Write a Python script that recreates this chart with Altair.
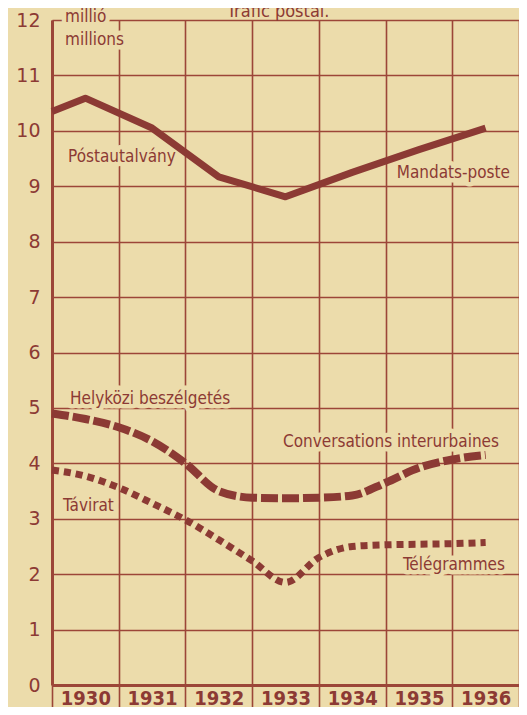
import altair as alt
import pandas as pd

# ---- data ----
post_years = [1929.5, 1930, 1931, 1932, 1933, 1934, 1935, 1936]
post_vals = [10.35, 10.59, 10.05, 9.17, 8.81, 9.25, 9.66, 10.05]

phone_years = [1929.5, 1930, 1930.5, 1931, 1931.5, 1932, 1932.5, 1933, 1933.5,
               1934, 1934.5, 1935, 1935.5, 1936]
phone_vals = [4.9, 4.8, 4.65, 4.4, 4.0, 3.5, 3.38, 3.37, 3.38,
              3.42, 3.65, 3.92, 4.07, 4.15]

tele_years = [1929.5, 1930, 1930.5, 1931, 1931.5, 1932, 1932.5, 1933, 1933.5,
              1934, 1934.5, 1935, 1935.5, 1936]
tele_vals = [3.88, 3.77, 3.56, 3.28, 2.98, 2.62, 2.24, 1.85, 2.3,
             2.5, 2.53, 2.54, 2.55, 2.57]

label_texts = ["millió", "millions", "Póstautalvány", "Helyközi beszélgetés", "Távirat",
               "Mandats-poste", "Conversations interurbaines", "Télégrammes"]
label_x = [1929.695, 1929.695, 1929.74, 1929.77, 1929.665, 1936.365, 1936.20, 1936.29]
label_y = [11.96, 11.55, 9.44, 5.07, 3.14, 9.15, 4.29, 2.075]
label_side = ["left", "left", "left", "left", "left", "right", "right", "right"]

year_labels = [1930, 1931, 1932, 1933, 1934, 1935, 1936]
y_ticks = list(range(0, 13))

title_text = ["Trafic postal."]
title_x = [1932.89]
title_y = [12.06]

# ---- styling ----
BG = "#ecdcab"
GRID = "#9c4638"
INK = "#8c3a34"
NARROW = "DejaVu Sans Condensed, DejaVu Sans, sans-serif"

post = pd.DataFrame({"year": post_years, "value": post_vals})
phone = pd.DataFrame({"year": phone_years, "value": phone_vals})
tele = pd.DataFrame({"year": tele_years, "value": tele_vals})
labels = pd.DataFrame({"year": label_x, "value": label_y, "text": label_texts, "side": label_side})
left_labels = labels[labels.side == "left"]
right_labels = labels[labels.side == "right"]
title_df = pd.DataFrame({"year": title_x, "value": title_y, "text": title_text})

bounds = [y - 0.5 for y in year_labels] + [year_labels[-1] + 0.5]
x_values = sorted(bounds + year_labels)

x_scale = alt.Scale(domain=[bounds[0], bounds[-1]], nice=False, zero=False)
y_scale = alt.Scale(domain=[0, 12], nice=False)

is_bound = "datum.value % 1 !== 0"
x_axis = alt.Axis(
    values=x_values, title=None,
    grid=True, gridColor=GRID, gridWidth=1.6,
    gridOpacity={"condition": {"test": is_bound, "value": 1}, "value": 0},
    ticks=True, tickSize=30, tickColor=GRID, tickWidth=1.6,
    tickOpacity={"condition": {"test": is_bound, "value": 1}, "value": 0},
    labelExpr="datum.value % 1 === 0 ? format(datum.value, 'd') : ''",
    labelFont=NARROW, labelFontSize=20, labelFontWeight="bold", labelColor=INK,
    labelPadding=-27, labelBaseline="top", labelAngle=0,
    labelOverlap=False, labelFlush=False,
    domain=True, domainColor=GRID, domainWidth=3,
)
y_axis = alt.Axis(
    values=y_ticks, title=None,
    grid=True, gridColor=GRID, gridWidth=1.6,
    ticks=False, tickSize=0,
    labelFont="DejaVu Sans", labelFontSize=19, labelColor=INK, labelPadding=12,
    labelFlush=False, labelOverlap=False,
    domain=True, domainColor=GRID, domainWidth=3,
)

X = alt.X("year:Q", scale=x_scale, axis=x_axis)
Y = alt.Y("value:Q", scale=y_scale, axis=y_axis)

solid = alt.Chart(post).mark_line(color=INK, strokeWidth=7, strokeJoin="round",
                                  strokeCap="butt").encode(x=X, y=Y)
dashed = alt.Chart(phone).mark_line(color=INK, strokeWidth=8, strokeDash=[17, 4],
                                    interpolate="monotone").encode(x=X, y=Y)
dotted = alt.Chart(tele).mark_line(color=INK, strokeWidth=7, strokeDash=[7, 5],
                                   interpolate="monotone").encode(x=X, y=Y)

def text_layers(df, align):
    halo = alt.Chart(df).mark_text(
        align=align, baseline="alphabetic", font=NARROW, fontSize=17,
        stroke=BG, strokeWidth=9, strokeJoin="round", fill=BG,
    ).encode(x=X, y=Y, text="text:N")
    txt = alt.Chart(df).mark_text(
        align=align, baseline="alphabetic", font=NARROW, fontSize=17, color=INK,
    ).encode(x=X, y=Y, text="text:N")
    return halo, txt

lh, lt = text_layers(left_labels, "left")
rh, rt = text_layers(right_labels, "right")

title_mark = alt.Chart(title_df).mark_text(
    align="center", baseline="alphabetic", font=NARROW, fontSize=18, color=INK,
).encode(x=X, y=Y, text="text:N")

chart = alt.layer(lh, rh, solid, dashed, dotted, lt, rt, title_mark).properties(
    width=467, height=665,
    autosize=alt.AutoSizeParams(type="none"),
    padding={"left": 44, "top": 12, "right": 0, "bottom": 22},
).configure(background=BG).configure_view(stroke=None)

chart.save("out.html", embed_options={"renderer": "svg", "actions": False})
